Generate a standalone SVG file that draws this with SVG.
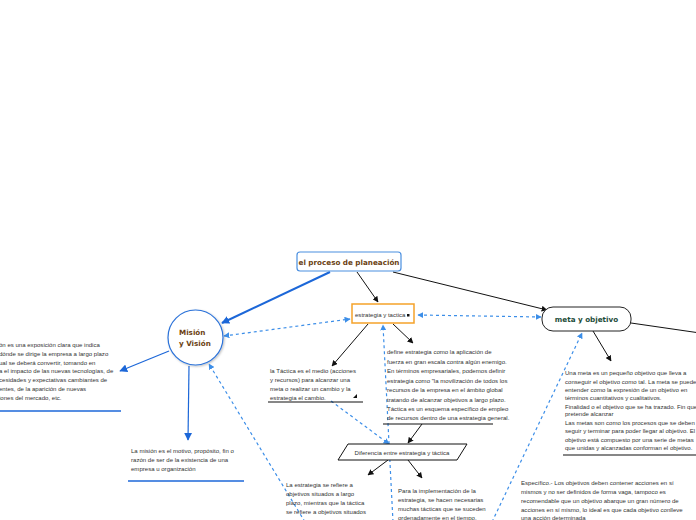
<svg xmlns="http://www.w3.org/2000/svg" width="696" height="520" viewBox="0 0 696 520">
<defs>
<marker id="ab" viewBox="0 0 10 10" refX="9" refY="5" markerWidth="6" markerHeight="6" orient="auto-start-reverse" markerUnits="userSpaceOnUse"><path d="M0,0 L10,5 L0,10 z" fill="#111"/></marker>
<marker id="abl" viewBox="0 0 10 10" refX="9" refY="5" markerWidth="8" markerHeight="8" orient="auto-start-reverse" markerUnits="userSpaceOnUse"><path d="M0,0 L10,5 L0,10 z" fill="#1c67d8"/></marker>
<marker id="ad" viewBox="0 0 10 10" refX="9" refY="5" markerWidth="6" markerHeight="6" orient="auto-start-reverse" markerUnits="userSpaceOnUse"><path d="M0,0 L10,5 L0,10 z" fill="#3c8ee8"/></marker>
<filter id="sh" x="-20%" y="-20%" width="140%" height="140%"><feDropShadow dx="1" dy="1" stdDeviation="1" flood-color="#000" flood-opacity="0.25"/></filter>
</defs>
<style>
.t{font-family:"Liberation Sans",Arial,sans-serif;font-size:6.05px;fill:#333}
.bk{stroke:#111;stroke-width:1;fill:none}
.bl{stroke:#1c67d8;stroke-width:1.2;fill:none}
.ds{stroke:#3c8ee8;stroke-width:1.2;fill:none;stroke-dasharray:3 3}
.ul{stroke:#111;stroke-width:1.2}
.ulb{stroke:#1c67d8;stroke-width:1.5}
</style>
<rect width="696" height="520" fill="#fff"/>

<g id="connectors">
<line x1="330" y1="272" x2="222" y2="323" stroke="#1c67d8" stroke-width="2" marker-end="url(#abl)"/>
<line class="bk" x1="357" y1="272" x2="378" y2="302" marker-end="url(#ab)"/>
<line class="bk" x1="393" y1="272" x2="547" y2="310" marker-end="url(#ab)"/>
<line class="bk" x1="631" y1="323" x2="700" y2="333"/>
<line class="bk" x1="593" y1="331" x2="611" y2="361" marker-end="url(#ab)"/>
<line class="bk" x1="368" y1="324" x2="332" y2="366" marker-end="url(#ab)"/>
<line class="bk" x1="393" y1="324" x2="413" y2="343" marker-end="url(#ab)"/>
<line class="bk" x1="422" y1="424" x2="408" y2="443" marker-end="url(#ab)"/>
<line class="bk" x1="388" y1="460" x2="368" y2="475" marker-end="url(#ab)"/>
<line class="bk" x1="408" y1="460" x2="422" y2="478" marker-end="url(#ab)"/>
<line class="bl" x1="189" y1="366" x2="188" y2="440" marker-end="url(#abl)"/>
<line class="bl" x1="169" y1="351" x2="120" y2="371" marker-end="url(#abl)"/>
<line class="ds" x1="224" y1="336" x2="350" y2="319" marker-start="url(#ad)" marker-end="url(#ad)"/>
<line class="ds" x1="418" y1="315" x2="541" y2="317" marker-start="url(#ad)" marker-end="url(#ad)"/>
<line class="ds" x1="305" y1="522" x2="209" y2="364" marker-end="url(#ad)"/>
<line class="ds" x1="393" y1="522" x2="383" y2="325" marker-end="url(#ad)"/>
<line class="ds" x1="331" y1="401" x2="389" y2="444" marker-end="url(#ad)"/>
<line class="ds" x1="492" y1="522" x2="582" y2="333" marker-end="url(#ad)"/>
</g>

<g id="n-proceso">
<rect x="297" y="252" width="104" height="19" rx="3" fill="#fff" stroke="#4a8fe0" stroke-width="1.2"/>
<text x="349" y="264.5" text-anchor="middle" font-family="DejaVu Sans,Verdana,sans-serif" font-size="7.2" font-weight="bold" fill="#6b3f12">el proceso de planeación</text>
</g>

<g id="n-mision">
<circle cx="195.5" cy="337.5" r="27.5" fill="#fff" stroke="#2b72d9" stroke-width="1.2" filter="url(#sh)"/>
<text font-family="DejaVu Sans,Verdana,sans-serif" font-size="7.2" font-weight="bold" fill="#6b3f12"><tspan x="179" y="335">Misión</tspan><tspan x="179" y="346">y Visión</tspan></text>
</g>

<g id="n-estrategia">
<rect x="352" y="304" width="62" height="19" fill="#fff" stroke="#f5a22a" stroke-width="1.5"/>
<text class="t" x="355" y="316.5" font-size="5.6" fill="#222">estrategia y tactica</text>
<rect x="407" y="314" width="2.5" height="2.5" fill="#111"/>
</g>

<g id="n-meta">
<rect x="542" y="307" width="89" height="24" rx="11" fill="#fff" stroke="#222" stroke-width="1"/>
<text x="586.5" y="322" text-anchor="middle" font-family="DejaVu Sans,Verdana,sans-serif" font-size="7.2" font-weight="bold" fill="#1d4d3a">meta y objetivo</text>
</g>

<g id="n-vision-text">
<text class="t"><tspan x="-1" y="347">ón es una exposición clara que indica</tspan><tspan x="-1" y="356">dónde se dirige la empresa a largo plazo</tspan><tspan x="-1" y="364.5">ual se deberá convertir, tomando en</tspan><tspan x="-1" y="373">a el impacto de las nuevas tecnologías, de</tspan><tspan x="-1" y="382">cesidades y expectativas cambiantes de</tspan><tspan x="-1" y="391">entes, de la aparición de nuevas</tspan><tspan x="-1" y="400">iones del mercado, etc.</tspan></text>
<line class="ulb" x1="0" y1="411" x2="121" y2="411"/>
</g>

<g id="n-mision-text">
<text class="t"><tspan x="131" y="453">La misión es el motivo, propósito, fin o</tspan><tspan x="131" y="462">razón de ser de la existencia de una</tspan><tspan x="131" y="471">empresa u organización</tspan></text>
<line class="ulb" x1="128" y1="481" x2="244" y2="481"/>
</g>

<g id="n-tactica-text">
<text class="t"><tspan x="270" y="373">la Táctica es el medio (acciones</tspan><tspan x="270" y="382">y recursos) para alcanzar una</tspan><tspan x="270" y="391">meta o realizar un cambio y la</tspan><tspan x="270" y="400">estrategia el cambio.</tspan></text>
<path d="M353,398 L357,394 L357,398 z" fill="#111"/>
<line class="ul" x1="268" y1="402" x2="363" y2="402"/>
</g>

<g id="n-define-text">
<text class="t"><tspan x="387" y="354">define estrategia como la aplicación de</tspan><tspan x="387" y="363.5">fuerza en gran escala contra algún enemigo.</tspan><tspan x="387" y="373">En términos empresariales, podemos definir</tspan><tspan x="387" y="382.5">estrategia como "la movilización de todos los</tspan><tspan x="387" y="392">recursos de la empresa en el ámbito global</tspan><tspan x="387" y="401.5">tratando de alcanzar objetivos a largo plazo.</tspan><tspan x="387" y="411">Táctica es un esquema específico de empleo</tspan><tspan x="387" y="420">de recursos dentro de una estrategia general.</tspan></text>
<line class="ul" x1="383" y1="424" x2="493" y2="424"/>
</g>

<g id="n-diferencia">
<polygon points="348,444 467,444 457,460 338,460" fill="#fff" stroke="#111" stroke-width="1"/>
<text class="t" x="402" y="455" text-anchor="middle" fill="#222">Diferencia entre estrategia y táctica</text>
</g>

<g id="n-largo-text">
<text class="t"><tspan x="286" y="487">La estrategia se refiere a</tspan><tspan x="286" y="496">objetivos situados a largo</tspan><tspan x="286" y="505">plazo, mientras que la táctica</tspan><tspan x="286" y="514">se refiere a objetivos situados</tspan></text>
</g>

<g id="n-implementacion-text">
<text class="t"><tspan x="398" y="493">Para la implementación de la</tspan><tspan x="398" y="502">estrategia, se hacen necesarias</tspan><tspan x="398" y="511">muchas tácticas que se suceden</tspan><tspan x="398" y="520">ordenadamente en el tiempo.</tspan></text>
</g>

<g id="n-meta-text">
<text class="t"><tspan x="565" y="375">Una meta es un pequeño objetivo que lleva a</tspan><tspan x="565" y="383.5">conseguir el objetivo como tal. La meta se puede</tspan><tspan x="565" y="392">entender como la expresión de un objetivo en</tspan><tspan x="565" y="400">términos cuantitativos y cualitativos.</tspan><tspan x="565" y="408.5">Finalidad o el objetivo que se ha trazado. Fin que se</tspan><tspan x="565" y="416">pretende alcanzar</tspan><tspan x="565" y="424.5">Las metas son como los procesos que se deben</tspan><tspan x="565" y="433">seguir y terminar para poder llegar al objetivo. El</tspan><tspan x="565" y="441.5">objetivo está compuesto por una serie de metas</tspan><tspan x="565" y="450">que unidas y alcanzadas conforman el objetivo.</tspan></text>
<line class="ul" x1="563" y1="455" x2="696" y2="455"/>
</g>

<g id="n-especifico-text">
<text class="t"><tspan x="521" y="485">Específico.- Los objetivos deben contener acciones en sí</tspan><tspan x="521" y="494">mismos y no ser definidos de forma vaga, tampoco es</tspan><tspan x="521" y="503">recomendable que un objetivo abarque un gran número de</tspan><tspan x="521" y="511.5">acciones en sí mismo, lo ideal es que cada objetivo conlleve</tspan><tspan x="521" y="520">una acción determinada</tspan></text>
</g>
</svg>
